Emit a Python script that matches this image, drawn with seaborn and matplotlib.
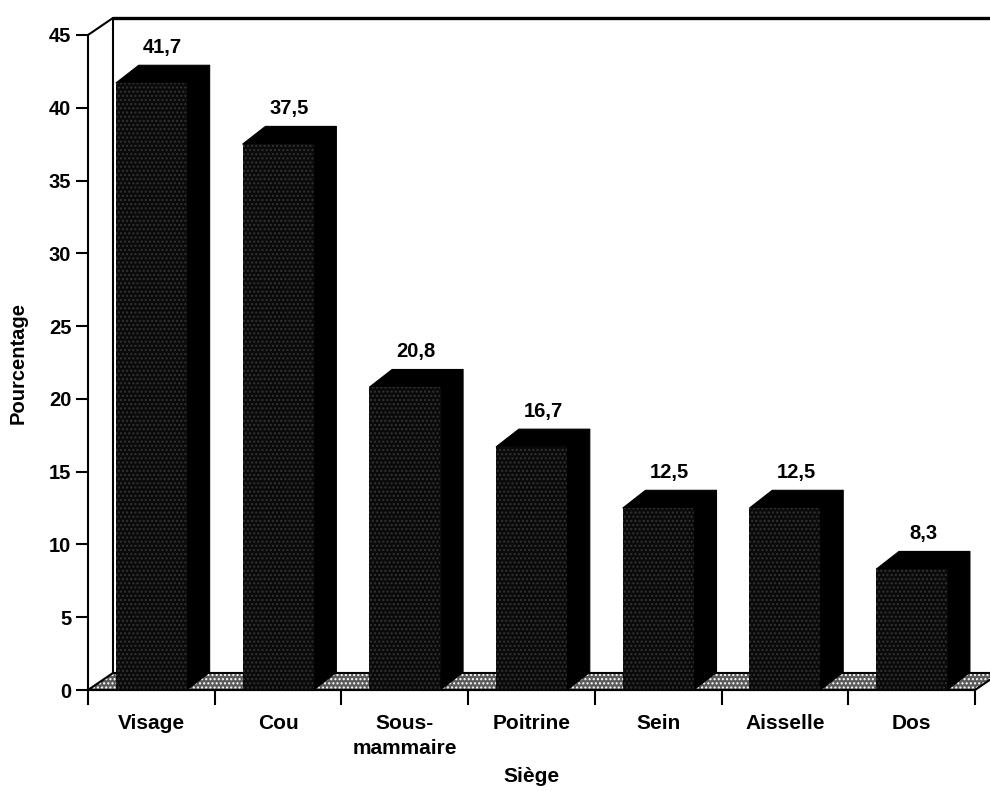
import numpy as np
import pandas as pd
import matplotlib
matplotlib.use("Agg")
import matplotlib.pyplot as plt
from matplotlib.patches import Polygon
import seaborn as sns

# Data: share of cases by site
categories = ["Visage", "Cou", "Sous-\nmammaire", "Poitrine", "Sein", "Aisselle", "Dos"]
values = [41.7, 37.5, 20.8, 16.7, 12.5, 12.5, 8.3]
value_labels = ["41,7", "37,5", "20,8", "16,7", "12,5", "12,5", "8,3"]
y_ticks = [0, 5, 10, 15, 20, 25, 30, 35, 40, 45]

sns.set_theme(style="white")
plt.rcParams["font.family"] = ["Liberation Sans", "DejaVu Sans"]
plt.rcParams["font.weight"] = "bold"
plt.rcParams["hatch.linewidth"] = 1.0

fig = plt.figure(figsize=(9.9, 7.91), dpi=100)
ax = fig.add_axes([88 / 990, 101 / 791, 887 / 990, 655 / 791])

df = pd.DataFrame({"Siège": categories, "Pourcentage": values})

# pseudo-3D depth (data units)
WALL_DX, WALL_DY = 0.197, 1.17
BAR_DX, BAR_DY = 0.18, 1.22
BAR_W = 0.56
n = len(categories)

sns.barplot(data=df, x="Siège", y="Pourcentage", width=BAR_W, color="#0a0a0a",
            saturation=1, edgecolor="#333333", linewidth=0, hatch="....",
            ax=ax, zorder=3)
bars = list(ax.patches)

ax.set_xlim(-0.5, n - 0.5)
ax.set_ylim(0, 45)

# floor of the 3D box
floor_pts = [(-0.5, 0), (n - 0.5, 0), (n - 0.5 + WALL_DX, WALL_DY), (-0.5 + WALL_DX, WALL_DY)]
ax.add_patch(Polygon(floor_pts, closed=True, facecolor="#5a5a5a", edgecolor="#ffffff",
                     hatch="....", linewidth=0, clip_on=False, zorder=1))
ax.add_patch(Polygon(floor_pts, closed=True, fill=False, edgecolor="black",
                     linewidth=1.5, clip_on=False, zorder=1.1))

# back wall edges
ax.plot([-0.5, -0.5 + WALL_DX], [45, 45 + WALL_DY], color="black", lw=1.5, clip_on=False, zorder=1.2)
ax.plot([-0.5 + WALL_DX] * 2, [WALL_DY, 45 + WALL_DY], color="black", lw=1.5, clip_on=False, zorder=1.2)
ax.plot([-0.5 + WALL_DX, n + 1], [45 + WALL_DY] * 2, color="black", lw=2.4, clip_on=False, zorder=1.2)

# tops and sides of the bars, plus value labels
for p, lab in zip(bars, value_labels):
    x0, w, h = p.get_x(), p.get_width(), p.get_height()
    top = [(x0, h), (x0 + w, h), (x0 + w + BAR_DX, h + BAR_DY), (x0 + BAR_DX, h + BAR_DY)]
    side = [(x0 + w, 0), (x0 + w + BAR_DX, BAR_DY), (x0 + w + BAR_DX, h + BAR_DY), (x0 + w, h)]
    for poly in (top, side):
        ax.add_patch(Polygon(poly, closed=True, facecolor="black", edgecolor="black",
                             linewidth=0.8, clip_on=False, zorder=2.9))
    ax.annotate(lab, xy=(x0 + w / 2 + BAR_DX / 2, h + BAR_DY), xytext=(0, 6),
                textcoords="offset points", ha="center", va="bottom",
                fontsize=14.5, fontweight="bold", color="black")

# x axis: ticks between categories, labels centred on categories
ax.set_xticks(np.arange(n + 1) - 0.5)
ax.set_xticklabels([])
ax.set_xticks(np.arange(n), minor=True)
ax.set_xticklabels(categories, minor=True, fontsize=15, fontweight="bold", color="black")
for t in ax.get_xticklabels(minor=True):
    t.set_linespacing(1.4)
ax.tick_params(axis="x", which="major", direction="out", bottom=True, length=11,
               width=1.5, color="black")
ax.tick_params(axis="x", which="minor", bottom=True, length=0, pad=17)

ax.set_yticks(y_ticks)
ax.set_yticklabels([str(v) for v in y_ticks], fontsize=14.5, fontweight="bold", color="black")
ax.tick_params(axis="y", direction="out", left=True, length=9, width=1.5, pad=3, color="black")

for side_name in ("top", "right"):
    ax.spines[side_name].set_visible(False)
for side_name in ("left", "bottom"):
    ax.spines[side_name].set_color("black")
    ax.spines[side_name].set_linewidth(1.5)

ax.set_xlabel("Siège", fontsize=15, fontweight="bold", color="black")
ax.xaxis.label.set_va("center")
ax.xaxis.set_label_coords(0.5, (690 - 777) / 655)
ax.set_ylabel("Pourcentage", fontsize=14.5, fontweight="bold", color="black")
ax.yaxis.label.set_va("center")
ax.yaxis.set_label_coords((18 - 88) / 887, 0.5)
ax.grid(False)

fig.savefig("out.png", dpi=100, facecolor="white")
